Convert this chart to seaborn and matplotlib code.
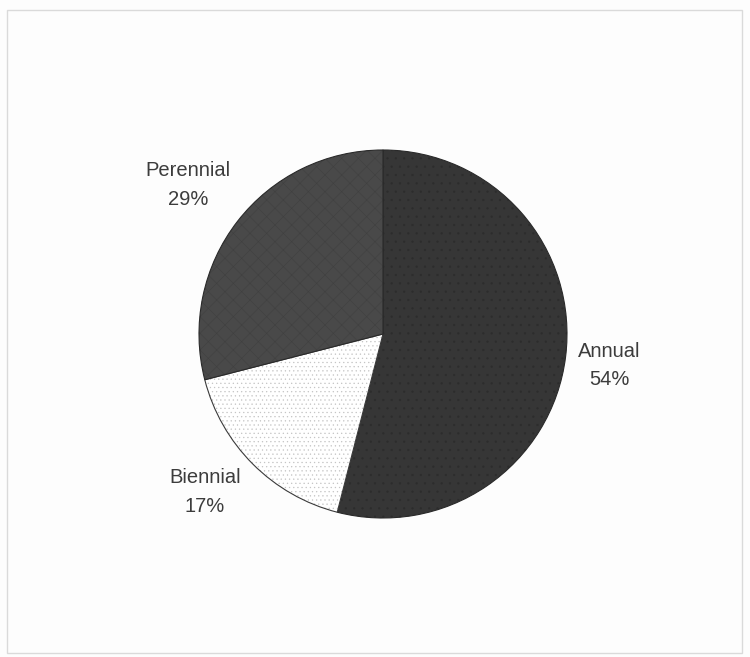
import numpy as np
import matplotlib
matplotlib.use("Agg")
import matplotlib.pyplot as plt
from matplotlib.patches import Rectangle
import seaborn as sns

# Life-cycle composition of the flora
categories = ["Annual", "Biennial", "Perennial"]
shares = [54, 17, 29]
pct_labels = ["54%", "17%", "29%"]

sns.set_theme(style="white")
plt.rcParams["font.family"] = ["Liberation Sans", "DejaVu Sans"]

W, H, DPI = 750, 657, 100
fig = plt.figure(figsize=(W / DPI, H / DPI), dpi=DPI)
fig.patch.set_facecolor("#fdfdfd")
ax = fig.add_axes([0, 0, 1, 1])
ax.set_facecolor("#fdfdfd")

face = ["#363636", "#ffffff", "#494949"]
edges = ["#2a2a2a", "#3a3a3a", "#2a2a2a"]
hatches = ["..", "....", "xx"]
hatch_cols = ["#2c2c2c", "#c4c4c4", "#404040"]

wedges, _ = ax.pie(shares, startangle=90, counterclock=False, radius=1.0,
                   colors=face, wedgeprops=dict(linewidth=0.8))
for w, ec, h, hc in zip(wedges, edges, hatches, hatch_cols):
    w.set_edgecolor(ec)
    w.set_hatch(h)
    if hasattr(w, "set_hatch_linewidth"):
        w.set_hatch_linewidth(0.4)
    w._hatch_color = matplotlib.colors.to_rgba(hc)

# labels outside each wedge: (radial distance, angular nudge in degrees)
label_pos = [(1.24, -0.8), (1.293, -3.4), (1.334, 0.4)]
for w, name, pct, (d, nudge) in zip(wedges, categories, pct_labels, label_pos):
    mid = np.deg2rad((w.theta1 + w.theta2) / 2 + nudge)
    ax.text(d * np.cos(mid), d * np.sin(mid), f"{name}\n{pct}",
            ha="center", va="center", fontsize=14.5, color="#3c3c3c",
            linespacing=1.62)

# pie centre at (383, 334) px, radius 184 px
cx, cy, r = 383, 334, 184
ax.set_xlim(-cx / r, (W - cx) / r)
ax.set_ylim(-(H - cy) / r, cy / r)
ax.set_aspect("auto")
ax.axis("off")

fig.patches.append(Rectangle((7 / W, 4 / H), 735 / W, 643 / H, transform=fig.transFigure,
                             fill=False, edgecolor="#dadada", linewidth=1.0))

fig.savefig("out.png", dpi=DPI, facecolor=fig.get_facecolor())
